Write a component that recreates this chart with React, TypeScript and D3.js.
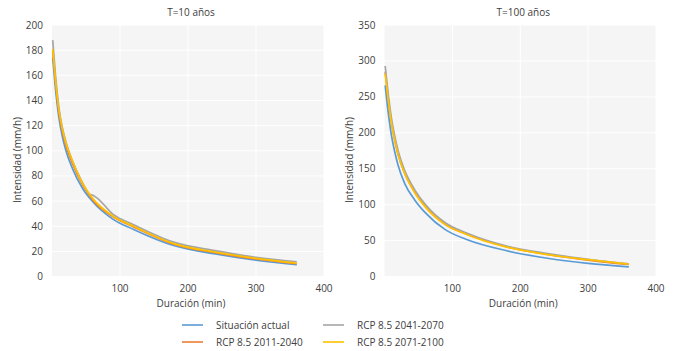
import React from "react";
import * as d3 from "d3";

// duraciones (min)
const durations = [1, 5, 10, 15, 20, 30, 45, 60, 90, 120, 180, 240, 300, 360];
const durationsKink = [1, 5, 10, 15, 20, 30, 45, 55, 60, 65, 90, 120, 180, 240, 300, 360];

// T = 10 años
const t10Actual = [174, 150, 127, 112, 101, 86, 70, 59.5, 45.5, 37.5, 24.5, 18, 13, 9.4];
const t10Rcp2011 = [179, 155, 131, 116, 105, 90, 73, 61, 47.5, 39.5, 25.5, 19, 14, 10.2];
const t10Rcp2041 = [188, 161, 135, 119, 108, 92, 74.5, 65.5, 64.6, 63, 49.5, 41.3, 27.2, 20.6, 15.3, 11.8];
const t10Rcp2071 = [181, 157, 133, 118, 107, 92, 74, 62, 48, 40, 26, 19.5, 14.5, 10.7];

// T = 100 años
const t100Actual = [266, 232, 198, 174, 155, 129, 106, 89, 65, 52, 36, 25.5, 18.5, 13.5];
const t100Rcp2011 = [285, 251, 216, 190, 170, 143, 117, 98, 72.5, 59.5, 41.5, 31, 23, 16.8];
const t100Rcp2041 = [293, 258, 222, 196, 175, 147, 120, 100.5, 74.5, 61, 42.5, 32, 24, 17.8];
const t100Rcp2071 = [282, 250, 215, 190, 170, 143, 116, 97, 72, 59, 41, 30.5, 23.5, 17.3];

const seriesNames = ["Situación actual", "RCP 8.5 2011-2040", "RCP 8.5 2041-2070", "RCP 8.5 2071-2100"];
const seriesColors = ["#5b9bd5", "#ed7d31", "#a5a5a5", "#ffc000"];

const xTicks = [100, 200, 300, 400];
const yTicks10 = [0, 20, 40, 60, 80, 100, 120, 140, 160, 180, 200];
const yTicks100 = [0, 50, 100, 150, 200, 250, 300, 350];

const FONT = "'Open Sans', 'Noto Sans', sans-serif";
const TEXT = "#404040";

type Series = { x: number[]; y: number[] };

function Panel({ title, left, right, yMax, yTicks, series }: {
  title: string; left: number; right: number; yMax: number; yTicks: number[]; series: Series[];
}) {
  const top = 25;
  const bottom = 276.6;
  const x = d3.scaleLinear().domain([0, 400]).range([left, right]);
  const y = d3.scaleLinear().domain([0, yMax]).range([bottom, top]);
  const line = d3.line<[number, number]>()
    .x(d => x(d[0]))
    .y(d => y(d[1]))
    .curve(d3.curveMonotoneX);
  const cx = (left + right) / 2;

  return (
    <g fontFamily={FONT} fill={TEXT}>
      <rect x={left} y={top} width={right - left} height={bottom - top} fill="#f5f5f5" />
      {yTicks.map(t => (
        <line key={"h" + t} x1={left} x2={right} y1={y(t)} y2={y(t)} stroke="#fff" strokeWidth={1} />
      ))}
      {xTicks.map(t => (
        <line key={"v" + t} x1={x(t)} x2={x(t)} y1={top} y2={bottom} stroke="#fff" strokeWidth={1} />
      ))}
      {series.map((s, i) => (
        <path key={i} d={line(s.x.map((d, j) => [d, s.y[j]] as [number, number])) || ""}
          fill="none" stroke={seriesColors[i]} strokeWidth={1.7} />
      ))}
      {yTicks.map(t => (
        <text key={"yl" + t} x={left - 9} y={y(t)} dy="0.35em" textAnchor="end" fontSize={10}>{t}</text>
      ))}
      {xTicks.map(t => (
        <text key={"xl" + t} x={x(t)} y={288} dy="0.35em" textAnchor="middle" fontSize={10}>{t}</text>
      ))}
      <text x={cx + 3} y={12} dy="0.35em" textAnchor="middle" fontSize={10}>{title}</text>
      <text x={cx + 3} y={303} dy="0.35em" textAnchor="middle" fontSize={10}>Duración (min)</text>
      <text transform={`translate(${left - 35},160) rotate(-90)`} dy="0.35em" textAnchor="middle" fontSize={10}>
        Intensidad (mm/h)
      </text>
    </g>
  );
}

export default function App() {
  const s10: Series[] = [
    { x: durations, y: t10Actual },
    { x: durations, y: t10Rcp2011 },
    { x: durationsKink, y: t10Rcp2041 },
    { x: durations, y: t10Rcp2071 },
  ];
  const s100: Series[] = [
    { x: durations, y: t100Actual },
    { x: durations, y: t100Rcp2011 },
    { x: durations, y: t100Rcp2041 },
    { x: durations, y: t100Rcp2071 },
  ];
  const legendPos = [
    [182, 325], [182, 342], [323, 325], [323, 342],
  ];

  return (
    <svg width={675} height={351} style={{ position: "absolute", left: 0, top: 0 }}>
      <rect width={675} height={351} fill="#fff" />
      <Panel title="T=10 años" left={52} right={324} yMax={200} yTicks={yTicks10} series={s10} />
      <Panel title="T=100 años" left={384.5} right={656} yMax={350} yTicks={yTicks100} series={s100} />
      <g fontFamily={FONT} fontSize={10} fill={TEXT}>
        {seriesNames.map((n, i) => (
          <g key={n}>
            <line x1={legendPos[i][0]} x2={legendPos[i][0] + 21} y1={legendPos[i][1]} y2={legendPos[i][1]}
              stroke={seriesColors[i]} strokeWidth={1.6} />
            <text x={legendPos[i][0] + 34} y={legendPos[i][1]} dy="0.35em">{n}</text>
          </g>
        ))}
      </g>
    </svg>
  );
}
